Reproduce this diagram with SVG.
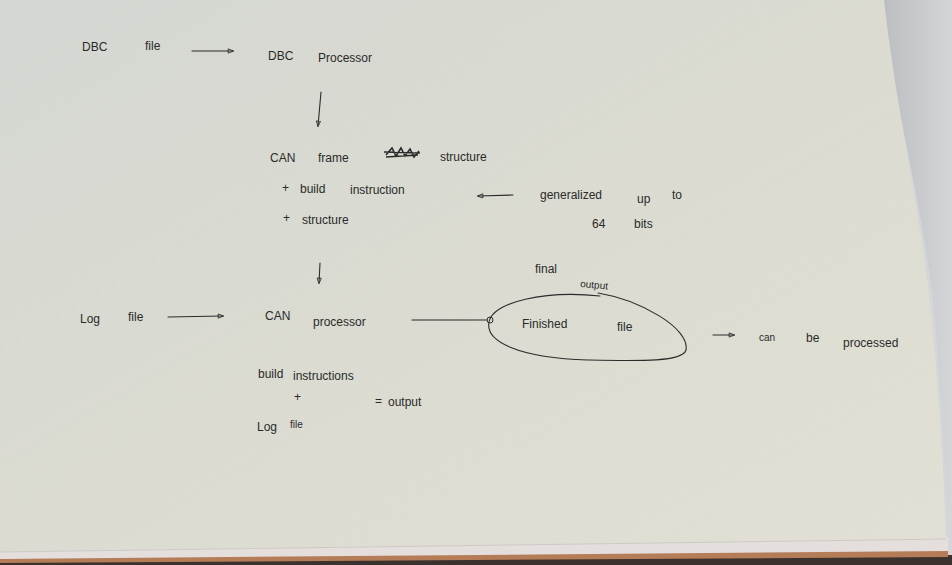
<svg xmlns="http://www.w3.org/2000/svg" width="952" height="565" viewBox="0 0 952 565">
<defs>
<linearGradient id="paper" x1="0" y1="0" x2="1" y2="1">
<stop offset="0" stop-color="#d4d7d2"/>
<stop offset="0.5" stop-color="#dbdbd1"/>
<stop offset="1" stop-color="#e2e0d4"/>
</linearGradient>
<linearGradient id="shadow" x1="0" y1="0" x2="1" y2="0">
<stop offset="0" stop-color="#a9acae"/>
<stop offset="1" stop-color="#d3d5d9"/>
</linearGradient>
<marker id="ohead" viewBox="0 0 10 10" refX="8" refY="5" markerWidth="7" markerHeight="7" orient="auto" markerUnits="userSpaceOnUse">
<path d="M1 2 L9 5 L1 8 Z" fill="none" stroke="#2b2b2b" stroke-width="1.2"/>
</marker>
<style>
.t{font-family:"Liberation Sans","DejaVu Sans",sans-serif;font-size:12px;fill:#2a2a2a;}
.s{font-size:10px;}
.ln{fill:none;stroke:#2b2b2b;stroke-width:1.1;stroke-linecap:round;}
</style>
</defs>
<rect width="952" height="565" fill="#d4d6da"/>
<path d="M880 0 C898 120 928 230 936 330 C942 420 946 480 950 540 L952 540 L952 0 Z" fill="url(#shadow)" opacity="0.6"/>
<path d="M0 560 L952 555 L952 565 L0 565 Z" fill="#3b322e"/>
<path d="M0 557 L948 549 L948 557 L0 563 Z" fill="#b57c58"/>
<path d="M0 549 L948 537 L948 551 L0 559 Z" fill="#e4dedd"/>
<path d="M0 0 L884 0 C896 110 922 220 932 320 C940 410 944 470 946 539 L0 552 Z" fill="url(#paper)"/>
<path d="M0 552 L946 539" stroke="#cfcac6" stroke-width="1" fill="none"/>

<g id="connectors">
<line class="ln" x1="192" y1="51" x2="233" y2="51" marker-end="url(#ohead)"/>
<line class="ln" x1="321" y1="92" x2="318" y2="126" marker-end="url(#ohead)"/>
<line class="ln" x1="513" y1="195" x2="478" y2="196" marker-end="url(#ohead)"/>
<line class="ln" x1="320" y1="263" x2="319" y2="283" marker-end="url(#ohead)"/>
<line class="ln" x1="168" y1="317" x2="223" y2="316" marker-end="url(#ohead)"/>
<line class="ln" x1="412" y1="320" x2="487" y2="320"/>
<circle cx="490" cy="320" r="3" fill="none" stroke="#2b2b2b" stroke-width="1"/>
<line class="ln" x1="713" y1="335" x2="734" y2="335" marker-end="url(#ohead)"/>
</g>

<g id="dbc_file">
<text class="t" x="82" y="51">DBC</text>
<text class="t" x="145" y="50">file</text>
</g>
<g id="dbc_processor">
<text class="t" x="268" y="60">DBC</text>
<text class="t" x="318" y="62">Processor</text>
</g>
<g id="can_frame_structure">
<text class="t" x="270" y="162">CAN</text>
<text class="t" x="318" y="162">frame</text>
<path d="M386 155 L392 148 L396 156 L401 148 L405 156 L410 149 L414 157 L419 151 M384 152 L420 153 M386 157 L418 155" fill="none" stroke="#2b2b2b" stroke-width="1.6"/>
<text class="t" x="440" y="161">structure</text>
<text class="t" x="282" y="192">+</text>
<text class="t" x="300" y="193">build</text>
<text class="t" x="350" y="194">instruction</text>
<text class="t" x="283" y="222">+</text>
<text class="t" x="302" y="224">structure</text>
</g>
<g id="generalized">
<text class="t" x="540" y="199">generalized</text>
<text class="t" x="637" y="203">up</text>
<text class="t" x="672" y="199">to</text>
<text class="t" x="592" y="228">64</text>
<text class="t" x="634" y="228">bits</text>
</g>
<g id="log_file">
<text class="t" x="80" y="323">Log</text>
<text class="t" x="128" y="321">file</text>
</g>
<g id="can_processor">
<text class="t" x="265" y="320">CAN</text>
<text class="t" x="313" y="326">processor</text>
</g>
<g id="finished_file">
<path class="ln" d="M598 293 C640 300 690 328 686 350 C683 362 640 361 588 360 C520 358 485 342 489 322 C493 302 545 290 600 296"/>
<text class="t" x="522" y="328">Finished</text>
<text class="t" x="617" y="331">file</text>
<text class="t" x="535" y="273">final</text>
<text class="t s" x="580" y="287" transform="rotate(5 580 287)">output</text>
</g>
<g id="can_be_processed">
<text class="t s" x="759" y="341">can</text>
<text class="t" x="806" y="342">be</text>
<text class="t" x="843" y="347">processed</text>
</g>
<g id="output_note">
<text class="t" x="258" y="378">build</text>
<text class="t" x="293" y="380">instructions</text>
<text class="t" x="294" y="401">+</text>
<text class="t" x="375" y="405">=</text>
<text class="t" x="388" y="406">output</text>
<text class="t" x="257" y="431">Log</text>
<text class="t s" x="290" y="428">file</text>
</g>
</svg>
